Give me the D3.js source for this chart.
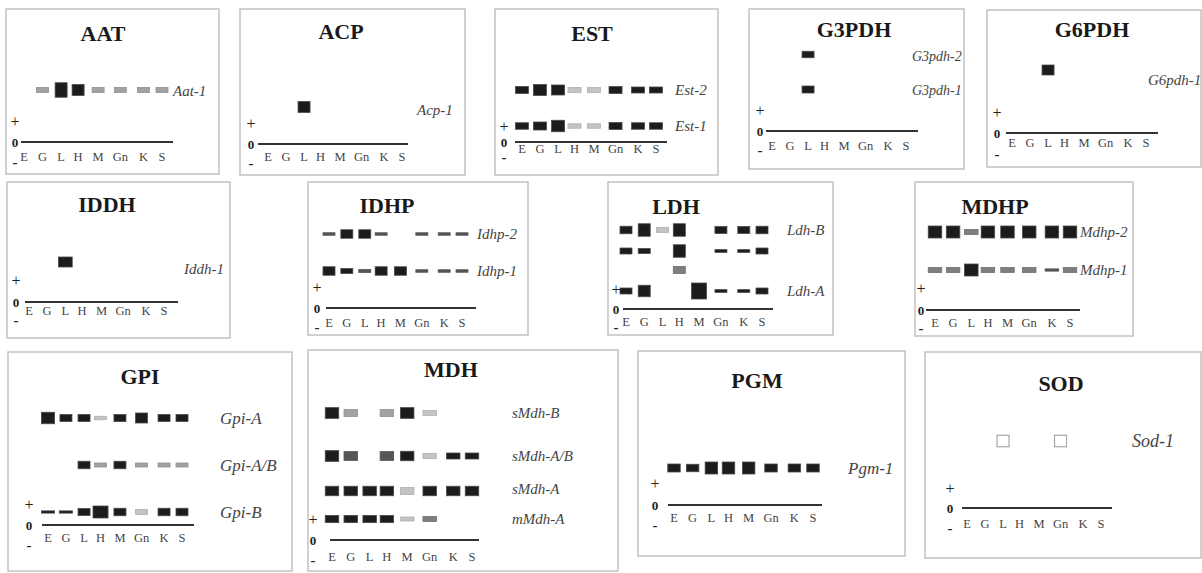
<!DOCTYPE html>
<html lang="en">
<head>
<meta charset="UTF-8">
<title>Zymograms</title>
<script src="https://d3js.org/d3.v7.min.js"></script>
<style>
  body { margin: 0; background: #fff; }
</style>
</head>
<body>
<div id="chart"></div>
<script>
const W = 1202, H = 573;

// lanes (tissues) under every gel
const lanes = ["E", "G", "L", "H", "M", "Gn", "K", "S"];
// spacing of the lanes follows the typed label row of the original
const laneSpacing = [0, 0.134, 0.269, 0.392, 0.537, 0.698, 0.866, 1];

// each locus: relative mobility above origin, and per lane [intensity 0-5, activity/thickness, (width factor)]
const aat = [
  { locus: "Aat-1", mobility: 5.2, bands: [null, [2, 2], [5, 5.8], [5, 4.4], [2, 2], [2, 2], [2, 2], [2, 2]] }
];
const acp = [
  { locus: "Acp-1", mobility: 3.7, bands: [null, null, [5, 4.4], null, null, null, null, null] }
];
const est = [
  { locus: "Est-2", mobility: 5.2, bands: [[5, 2.8], [5, 4.4], [5, 4], [1, 2], [1, 2], [5, 2.8], [5, 2.4], [5, 2.4]] },
  { locus: "Est-1", mobility: 1.6, bands: [[5, 2.6], [5, 3.2], [5, 4.6], [1, 1.8], [1, 1.8], [5, 2.8], [5, 2.6], [5, 2.6]] }
];
const g3pdh = [
  { locus: "G3pdh-2", mobility: 7.65, bands: [null, null, [5, 2.6], null, null, null, null, null] },
  { locus: "G3pdh-1", mobility: 4.15, bands: [null, null, [5, 2.8], null, null, null, null, null] }
];
const g6pdh = [
  { locus: "G6pdh-1", mobility: 6.3, bands: [null, null, [5, 4], null, null, null, null, null] }
];
const iddh = [
  { locus: "Iddh-1", mobility: 4.0, bands: [null, null, [5, 4, 1.15], null, null, null, null, null] }
];
const idhp = [
  { locus: "Idhp-2", mobility: 7.4, bands: [[4, 1], [5, 3.4], [5, 3.4], [4, 1], null, [4, 1], [4, 1], [4, 1]] },
  { locus: "Idhp-1", mobility: 3.7, bands: [[5, 3.4], [5, 2], [4, 1.2], [5, 3.4], [5, 3.4], [4, 1], [4, 1], [4, 1]] }
];
const ldh = [
  { locus: "Ldh-B", mobility: 7.9, bands: [[5, 3], [5, 5], [1, 2], [5, 5], null, [5, 2.8], [5, 2.8], [5, 3]] },
  { locus: "", mobility: 5.8, bands: [[5, 2.4], [5, 2], null, [5, 5], null, [5, 1.1], [5, 1.1], [5, 2.4]] },
  { locus: "", mobility: 3.9, bands: [null, null, null, [3, 2.8], null, null, null, null] },
  { locus: "Ldh-A", mobility: 1.8, bands: [[5, 2.4], [5, 4.6], null, null, [5, 6.4, 1.25], [5, 1.1], [5, 1.1], [5, 2.4]] }
];
const mdhp = [
  { locus: "Mdhp-2", mobility: 7.8, bands: [[5, 4.8], [5, 4.8], [3, 2], [5, 4.8], [5, 4.8], [5, 4.8], [5, 4.8], [5, 4.8]] },
  { locus: "Mdhp-1", mobility: 4.0, bands: [[3, 2], [3, 2], [5, 4.8], [3, 2], [3, 2], [3, 2], [4, 0.9], [3, 2]] }
];
const gpi = [
  { locus: "Gpi-A", mobility: 10.7, bands: [[5, 4.6, 1.1], [5, 2.8], [5, 2.8], [1, 1.4], [5, 2.8], [5, 4], [5, 2.8], [5, 2.8]] },
  { locus: "Gpi-A/B", mobility: 6.0, bands: [null, null, [5, 3], [2, 1.6], [5, 3], [2, 1.6], [2, 1.6], [2, 1.6]] },
  { locus: "Gpi-B", mobility: 1.3, bands: [[5, 0.9, 1.1], [5, 0.9, 1.1], [5, 2.8], [5, 4.8, 1.25], [5, 3], [1, 2], [5, 3], [5, 3]] }
];
const mdh = [
  { locus: "sMdh-B", mobility: 12.7, bands: [[5, 4.3], [2, 2.8], null, [2, 2.8], [5, 4.3], [1, 2], null, null] },
  { locus: "sMdh-A/B", mobility: 8.4, bands: [[5, 4.3], [4, 3.6], null, [4, 3.6], [5, 3.8], [1, 2], [5, 2.4], [5, 2.4]] },
  { locus: "sMdh-A", mobility: 4.9, bands: [[5, 3.8], [5, 3.8], [5, 3.8], [5, 3.8], [1, 2.8], [5, 3.8], [5, 3.8], [5, 3.8]] },
  { locus: "mMdh-A", mobility: 2.1, bands: [[5, 2.9], [5, 2.9], [5, 2.9], [5, 2.9], [1, 1.6], [3, 2], null, null] }
];
const pgm = [
  { locus: "Pgm-1", mobility: 3.7, bands: [[5, 3.2], [5, 3], [5, 4.8], [5, 4.8], [5, 4.8], [5, 3.2], [5, 3.2], [5, 3.2]] }
];
const sod = [
  { locus: "Sod-1", mobility: 6.7, bands: [null, null, [0, 4.6], null, null, [0, 4.6], null, null] }
];

// panel geometry
const panels = [
  { name: "AAT", loci: aat, box: [6, 9, 219, 174], title: [103, 41], axisY: 142, axisX: [21, 173], lanesX: [24, 162], labelGap: 19, signX: 15, signGap: [21, 20], locusX: 173, locusSize: 15, locusDy: [1] },
  { name: "ACP", loci: acp, box: [240, 9, 465, 175], title: [341, 39], axisY: 144, axisX: [258, 408], lanesX: [268, 402], labelGap: 17, signX: 251, signGap: [21, 19], locusX: 417, locusSize: 15, locusDy: [3] },
  { name: "EST", loci: est, box: [495, 9, 718, 175], title: [592, 41], axisY: 142, axisX: [515, 667], lanesX: [522, 656], labelGap: 11, signX: 504, signGap: [16, 15], locusX: 675, locusSize: 15, bandW: 13 },
  { name: "G3PDH", loci: g3pdh, box: [749, 9, 964, 169], title: [854, 37], axisY: 131, axisX: [766, 918], lanesX: [772, 906], labelGap: 19, signX: 760, signGap: [21, 19], locusX: 912, locusSize: 14, locusDy: [2, 1] },
  { name: "G6PDH", loci: g6pdh, box: [987, 10, 1201, 167], title: [1092, 37], axisY: 133, axisX: [1006, 1158], lanesX: [1012, 1146], labelGap: 14, signX: 997, signGap: [21, 21], locusX: 1148, locusSize: 15, locusDy: [10] },
  { name: "IDDH", loci: iddh, box: [7, 182, 230, 338], title: [107, 212], axisY: 302, axisX: [25, 178], lanesX: [29, 164], labelGap: 13, signX: 16, signGap: [22, 18], locusX: 184, locusSize: 15, locusDy: [7] },
  { name: "IDHP", loci: idhp, box: [308, 182, 528, 335], title: [387, 213], axisY: 308, axisX: [326, 476], lanesX: [329, 462], labelGap: 19, signX: 317, signGap: [21, 19], locusX: 477, locusSize: 15 },
  { name: "LDH", loci: ldh, box: [608, 182, 833, 335], title: [676, 214], axisY: 309, axisX: [623, 773], lanesX: [626, 762], labelGap: 17, signX: 616, signGap: [20, 18], locusX: 787, locusSize: 15 },
  { name: "MDHP", loci: mdhp, box: [915, 182, 1133, 336], title: [995, 214], axisY: 310, axisX: [926, 1080], lanesX: [935, 1070], labelGap: 17, signX: 921, signGap: [22, 18], locusX: 1080, locusSize: 15, bandW: 13.5 },
  { name: "GPI", loci: gpi, box: [8, 352, 292, 571], title: [140, 384], axisY: 525, axisX: [42, 194], lanesX: [48, 182], labelGap: 17, signX: 29, signGap: [21, 20], locusX: 220, locusSize: 17 },
  { name: "MDH", loci: mdh, box: [308, 350, 618, 571], title: [451, 377], axisY: 540, axisX: [330, 479], lanesX: [332, 472], labelGap: 21, signX: 313, signGap: [21, 20], locusX: 512, locusSize: 15, locusDy: [0, 0, -2, 0], bandW: 13.5 },
  { name: "PGM", loci: pgm, box: [638, 351, 905, 556], title: [757, 388], axisY: 505, axisX: [668, 822], lanesX: [674, 813], labelGap: 17, signX: 655, signGap: [22, 20], locusX: 848, locusSize: 17, bandW: 12.5 },
  { name: "SOD", loci: sod, box: [925, 352, 1201, 558], title: [1061, 391], axisY: 508, axisX: [962, 1112], lanesX: [967, 1101], labelGap: 20, signX: 950, signGap: [20, 20], locusX: 1132, locusSize: 18 }
];

const serif = "'Liberation Serif', 'Times New Roman', serif";

const shade = d3.scaleOrdinal()
  .domain([0, 1, 2, 3, 4, 5])
  .range(["#ffffff", "#c4c4c4", "#a2a2a2", "#7e7e7e", "#555555", "#1c1c1c"]);
const edge = d3.scaleOrdinal()
  .domain([0, 1, 2, 3, 4, 5])
  .range(["#a8a8a8", "#b0b0b0", "#909090", "#707070", "#555555", "#4a4a4a"]);
const thick = d3.scaleLinear().domain([0, 6]).range([0, 15]);

const svg = d3.select("#chart")
  .append("svg")
  .attr("width", W)
  .attr("height", H)
  .style("font-family", serif);

panels.forEach(p => {
  const g = svg.append("g").attr("class", "panel");
  const [x0, y0, x1, y1] = p.box;

  g.append("rect")
    .attr("x", x0).attr("y", y0)
    .attr("width", x1 - x0).attr("height", y1 - y0)
    .attr("fill", "#fff")
    .attr("stroke", "#c2c2c2")
    .attr("stroke-width", 1.5);

  g.append("text")
    .attr("x", p.title[0]).attr("y", p.title[1])
    .attr("text-anchor", "middle")
    .attr("font-size", 22)
    .attr("font-weight", "bold")
    .attr("fill", "#1a1a1a")
    .text(p.name);

  const lanePos = d3.scaleOrdinal().domain(lanes).range(laneSpacing);
  const xScale = d3.scaleLinear().domain([0, 1]).range(p.lanesX);
  const x = d => xScale(lanePos(d));
  const y = d3.scaleLinear().domain([0, 10]).range([p.axisY, p.axisY - 100]);
  const bw = p.bandW || 12;

  // origin line
  g.append("line")
    .attr("x1", p.axisX[0]).attr("x2", p.axisX[1])
    .attr("y1", p.axisY).attr("y2", p.axisY)
    .attr("stroke", "#333")
    .attr("stroke-width", 2);

  // + 0 - marks
  const signs = [
    { t: "+", dy: -p.signGap[0], size: 16, w: "normal" },
    { t: "0", dy: 0, size: 13, w: "bold" },
    { t: "-", dy: p.signGap[1], size: 15, w: "bold" }
  ];
  g.selectAll("text.sign")
    .data(signs)
    .enter()
    .append("text")
    .attr("class", "sign")
    .attr("x", p.signX)
    .attr("y", d => p.axisY + d.dy)
    .attr("text-anchor", "middle")
    .attr("dominant-baseline", "central")
    .attr("font-size", d => d.size)
    .attr("font-weight", d => d.w)
    .attr("fill", "#222")
    .text(d => d.t);

  // lane labels
  g.selectAll("text.lane")
    .data(lanes)
    .enter()
    .append("text")
    .attr("class", "lane")
    .attr("x", d => x(d))
    .attr("y", p.axisY + p.labelGap)
    .attr("text-anchor", "middle")
    .attr("font-size", 12.5)
    .attr("fill", "#444")
    .text(d => d);

  // bands
  const bands = [];
  p.loci.forEach(l => {
    l.bands.forEach((b, i) => {
      if (b) bands.push({ lane: lanes[i], mobility: l.mobility, level: b[0], act: b[1], wf: b[2] || 1 });
    });
  });
  g.selectAll("rect.band")
    .data(bands)
    .enter()
    .append("rect")
    .attr("class", "band")
    .attr("x", d => x(d.lane) - bw * d.wf / 2)
    .attr("y", d => y(d.mobility) - thick(d.act) / 2)
    .attr("width", d => bw * d.wf)
    .attr("height", d => thick(d.act))
    .attr("fill", d => shade(d.level))
    .attr("stroke", d => edge(d.level))
    .attr("stroke-width", d => d.level === 0 ? 1.2 : 0.8);

  // locus names
  g.selectAll("text.locus")
    .data(p.loci.filter(l => l.locus))
    .enter()
    .append("text")
    .attr("class", "locus")
    .attr("x", p.locusX)
    .attr("y", (d, i) => y(d.mobility) + (p.locusDy ? p.locusDy[i] || 0 : 0))
    .attr("dominant-baseline", "central")
    .attr("font-size", p.locusSize)
    .attr("font-style", "italic")
    .attr("fill", "#444")
    .text(d => d.locus);
});
</script>
</body>
</html>
